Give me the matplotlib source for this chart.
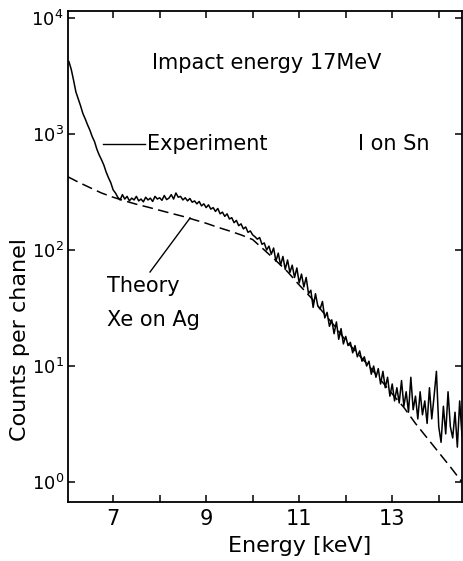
import matplotlib
matplotlib.use("Agg")
import matplotlib.pyplot as plt
from matplotlib.ticker import NullLocator

# experiment spectrum, I on Sn (counts per channel)
exp_energy = [
    6.05, 6.10, 6.15, 6.20, 6.25, 6.30, 6.35, 6.40, 6.45, 6.50,
    6.55, 6.60, 6.65, 6.70, 6.75, 6.80, 6.85, 6.90, 6.95, 7.00,
    7.05, 7.10, 7.15, 7.20, 7.25, 7.30, 7.35, 7.40, 7.45, 7.50,
    7.55, 7.60, 7.65, 7.70, 7.75, 7.80, 7.85, 7.90, 7.95, 8.00,
    8.05, 8.10, 8.15, 8.20, 8.25, 8.30, 8.35, 8.40, 8.45, 8.50,
    8.55, 8.60, 8.65, 8.70, 8.75, 8.80, 8.85, 8.90, 8.95, 9.00,
    9.05, 9.10, 9.15, 9.20, 9.25, 9.30, 9.35, 9.40, 9.45, 9.50,
    9.55, 9.60, 9.65, 9.70, 9.75, 9.80, 9.85, 9.90, 9.95, 10.00,
    10.05, 10.10, 10.15, 10.20, 10.25, 10.30, 10.35, 10.40, 10.45, 10.50,
    10.55, 10.60, 10.65, 10.70, 10.75, 10.80, 10.85, 10.90, 10.95, 11.00,
    11.05, 11.10, 11.15, 11.20, 11.25, 11.30, 11.35, 11.40, 11.45, 11.50,
    11.55, 11.60, 11.65, 11.70, 11.75, 11.80, 11.85, 11.90, 11.95, 12.00,
    12.05, 12.10, 12.15, 12.20, 12.25, 12.30, 12.35, 12.40, 12.45, 12.50,
    12.55, 12.60, 12.65, 12.70, 12.75, 12.80, 12.85, 12.90, 12.95, 13.00,
    13.05, 13.10, 13.15, 13.20, 13.25, 13.30, 13.35, 13.40, 13.45, 13.50,
    13.55, 13.60, 13.65, 13.70, 13.75, 13.80, 13.85, 13.90, 13.95, 14.00,
    14.05, 14.10, 14.15, 14.20, 14.25, 14.30, 14.35, 14.40, 14.45, 14.50,
]
exp_counts = [
    4200, 3600, 2900, 2300, 2000, 1750, 1500, 1350, 1200, 1080,
    950, 860, 740, 660, 600, 540, 470, 420, 380, 330,
    310, 285, 270, 300, 275, 290, 265, 280, 270, 290,
    265, 275, 260, 285, 270, 280, 262, 290, 275, 282,
    268, 295, 272, 280, 300, 275, 310, 285, 290, 270,
    282, 265, 278, 258, 265, 250, 262, 240, 250, 232,
    245, 225, 232, 215, 228, 205, 212, 195, 205, 185,
    190, 172, 180, 162, 168, 152, 158, 142, 146, 135,
    130, 124, 128, 112, 115, 100, 108, 92, 104, 80,
    94, 74, 88, 68, 82, 64, 74, 58, 70, 52,
    62, 48, 58, 42, 45, 32, 42, 33, 31, 36,
    26, 29, 22, 25, 19, 24, 17, 21, 15.5, 18,
    15, 16, 13, 15, 12, 13.5, 11, 12, 10, 11,
    8.5, 10, 8, 9.5, 7, 9, 6.5, 8, 5.5, 7,
    5, 6.5, 4.8, 7.5, 4.5, 6, 4, 8, 4.2, 5.5,
    3.5, 6, 3.8, 5, 3.2, 6.5, 3.5, 5.5, 9, 3,
    2.2, 4.5, 2.6, 6, 3, 2.4, 4, 2, 5, 2.5,
]

# theory, Xe on Ag
theory_energy = [
    6.03, 6.25, 6.5, 6.75, 7.0, 7.25, 7.5, 7.75, 8.0, 8.25,
    8.5, 8.75, 9.0, 9.25, 9.5, 9.75, 10.0, 10.25, 10.5, 10.75,
    11.0, 11.25, 11.5, 11.75, 12.0, 12.25, 12.5, 12.75, 13.0, 13.25,
    13.5, 13.75, 14.0, 14.25, 14.5,
]
theory_counts = [
    427, 385, 345, 310, 285, 265, 248, 234, 220, 207,
    195, 182, 170, 157, 146, 135, 123, 100, 81, 65,
    50, 39, 29.5, 22.4, 16.6, 12.9, 10, 7.6, 5.75, 4.4,
    3.2, 2.4, 1.8, 1.35, 1.0,
]

x_ticks = [7, 8, 9, 10, 11, 12, 13, 14]
x_tick_labels = ["7", "", "9", "", "11", "", "13", ""]
y_ticks = [1, 10, 100, 1000, 10000]

fs = 15
fig = plt.figure(figsize=(4.64, 5.61), dpi=100)
ax = fig.add_axes([68 / 464, 59 / 561, 394 / 464, 491 / 561])

ax.plot(exp_energy, exp_counts, color="black", lw=1.1)
ax.plot(theory_energy, theory_counts, color="black", lw=1.1, dashes=(7, 3.5))

ax.set_yscale("log")
ax.set_xlim(6.03, 14.5)
ax.set_ylim(10 ** -0.172, 10 ** 4.06)
ax.set_yticks(y_ticks)
ax.yaxis.set_minor_locator(NullLocator())
ax.set_xticks(x_ticks)
ax.set_xticklabels(x_tick_labels)
ax.tick_params(direction="in", top=True, right=True, length=5, width=1.1)
ax.tick_params(axis="x", labelsize=fs, pad=5)
ax.tick_params(axis="y", labelsize=13, pad=3)
for s in ax.spines.values():
    s.set_linewidth(1.3)

ax.set_xlabel("Energy [keV]", fontsize=16)
ax.xaxis.set_label_coords(0.589, -0.07)
ax.set_ylabel("Counts per chanel", fontsize=16, va="center")
ax.yaxis.set_label_coords(-0.122, 0.33)

ax.text(7.836, 4090, "Impact energy 17MeV", fontsize=fs, ha="left", va="center")
ax.plot([6.783, 7.686], [820, 820], color="black", lw=1.0)
ax.text(7.73, 820, "Experiment", fontsize=fs, ha="left", va="center")
ax.text(12.27, 820, "I on Sn", fontsize=fs, ha="left", va="center")
ax.plot([7.793, 8.654], [64.6, 188.7], color="black", lw=1.0)
ax.text(6.869, 49, "Theory", fontsize=fs, ha="left", va="center")
ax.text(6.869, 24.9, "Xe on Ag", fontsize=fs, ha="left", va="center")

fig.savefig("out.png", dpi=100)
